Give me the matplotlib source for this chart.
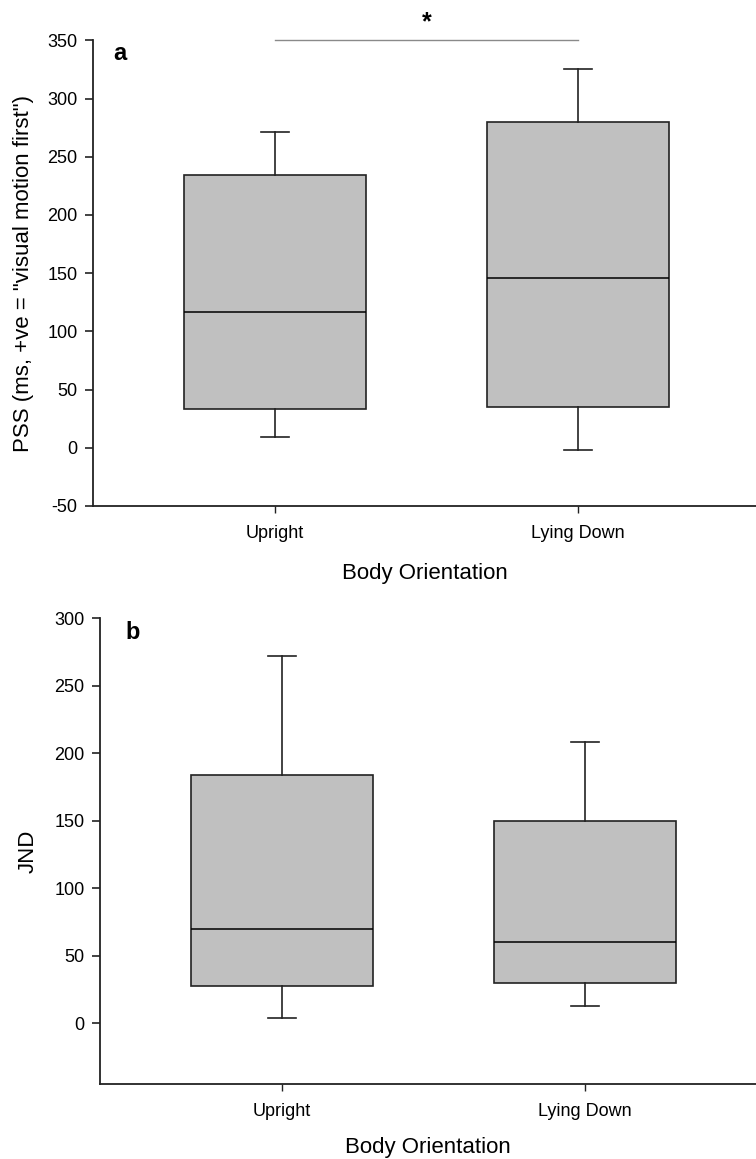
import matplotlib
matplotlib.use("Agg")
import matplotlib.pyplot as plt

plt.rcParams['font.family'] = ['Liberation Sans', 'DejaVu Sans']
plt.rcParams['axes.unicode_minus'] = False

categories = ["Upright", "Lying Down"]

# Panel a: PSS box summaries (ms)
pss_whislo = [9, -2]
pss_q1 = [33, 35]
pss_med = [117, 146]
pss_q3 = [234, 280]
pss_whishi = [271, 325]

# Panel b: JND box summaries
jnd_whislo = [4, 13]
jnd_q1 = [27.5, 29.5]
jnd_med = [70, 60]
jnd_q3 = [184, 150]
jnd_whishi = [272, 208]

W, H = 756, 1159
fig = plt.figure(figsize=(W / 100, H / 100), dpi=100)

EDGE = "#222222"
FILL = "#c0c0c0"


def make_stats(lo, q1, med, q3, hi):
    out = []
    for i in range(len(lo)):
        out.append(dict(whislo=lo[i], q1=q1[i], med=med[i], q3=q3[i],
                        whishi=hi[i], fliers=[], label=categories[i]))
    return out


def panel(rect, stats, ylim, yticks, ylabel, xlim, letter, letter_xy, xlabelpad):
    ax = fig.add_axes(rect)
    ax.bxp(stats, positions=[1, 2], widths=0.6, capwidths=0.09,
           patch_artist=True, showfliers=False,
           boxprops=dict(facecolor=FILL, edgecolor=EDGE, linewidth=1.2),
           medianprops=dict(color="black", linewidth=1.1),
           whiskerprops=dict(color=EDGE, linewidth=1.2),
           capprops=dict(color=EDGE, linewidth=1.2))
    ax.set_xlim(*xlim)
    ax.set_ylim(*ylim)
    ax.set_yticks(yticks)
    ax.set_xticks([1, 2])
    ax.set_xticklabels(categories)
    for s in ("top", "right"):
        ax.spines[s].set_visible(False)
    for s in ("left", "bottom"):
        ax.spines[s].set_linewidth(1.3)
        ax.spines[s].set_color("#222222")
    ax.tick_params(axis="y", direction="out", length=6, width=1.2,
                   labelsize=13, pad=5, color="#222222")
    ax.tick_params(axis="x", direction="out", length=5, width=1.0,
                   labelsize=13, pad=9, color="#222222")
    ax.set_ylabel(ylabel, fontsize=16)
    ax.set_xlabel("Body Orientation", fontsize=16, labelpad=xlabelpad)
    fig.text(letter_xy[0] / W, 1 - letter_xy[1] / H, letter,
             fontsize=17, fontweight="bold", ha="left", va="baseline")
    return ax


ax1 = panel([93 / W, 1 - 506 / H, 1 - 93 / W, (506 - 40.3) / H],
            make_stats(pss_whislo, pss_q1, pss_med, pss_q3, pss_whishi),
            (-50, 350), range(-50, 351, 50),
            'PSS (ms, +ve = "visual motion first")',
            (0.3993, 2.587), "a", (113, 60), 15)
ax1.yaxis.set_label_coords(-0.089, 0.5)

# significance bracket between the two orientations
ax1.plot([1, 2], [350, 350], color="#8a8a8a", linewidth=1.0, clip_on=False)
ax1.text(1.5, 355, "*", ha="center", va="bottom", fontsize=18,
         fontweight="bold", clip_on=False)

ax2 = panel([100 / W, 1 - 1084 / H, 1 - 100 / W, (1084 - 618.3) / H],
            make_stats(jnd_whislo, jnd_q1, jnd_med, jnd_q3, jnd_whishi),
            (-45, 300), range(0, 301, 50), "JND",
            (0.399, 2.564), "b", (125, 639), 12)
ax2.yaxis.set_label_coords(-0.093, 0.5)

fig.savefig("out.png", dpi=100)
